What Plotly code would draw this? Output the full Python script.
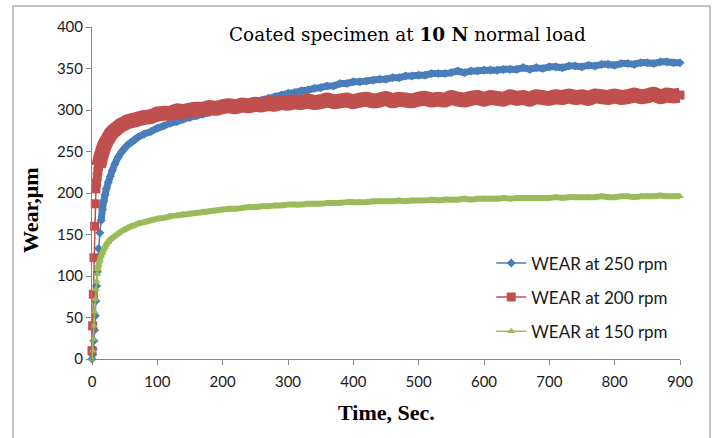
import plotly.graph_objects as go

# Time (s)
time_s = [0, 1, 2, 3, 4, 5, 6, 7, 8, 9, 10, 12, 14, 16, 18, 20, 22, 25, 28, 31, 35, 40, 45, 50, 55, 60, 65, 70,
          80, 90, 100, 110, 120, 130, 140, 150, 160, 170, 180, 190, 200, 210, 220, 230, 240, 250, 260, 270, 280, 290,
          300, 310, 320, 330, 340, 350, 360, 370, 380, 390, 400, 410, 420, 430, 440, 450, 460, 470, 480, 490,
          500, 510, 520, 530, 540, 550, 560, 570, 580, 590, 600, 610, 620, 630, 640, 650, 660, 670, 680, 690,
          700, 710, 720, 730, 740, 750, 760, 770, 780, 790, 800, 810, 820, 830, 840, 850, 860, 870, 880, 890, 900]

# Wear (um) at 250 rpm
wear_250 = [0, 5, 12, 22, 35, 52, 70, 88, 105, 120, 133, 152, 167, 180, 190, 198, 205, 213, 220, 227, 235, 243, 249, 254, 258, 261, 264, 267,
            271, 274, 278, 281, 284, 286, 289, 291, 293, 295, 297, 299, 301, 303, 304, 306, 308, 310, 312, 314, 316, 318,
            320, 321, 323, 324, 326, 327, 329, 329, 332, 332, 334, 334, 335, 336, 337, 337, 339, 339, 341, 341,
            342, 342, 344, 344, 344, 345, 347, 345, 347, 347, 348, 348, 348, 349, 349, 349, 351, 349, 351, 350,
            352, 352, 351, 353, 353, 352, 354, 353, 355, 355, 354, 356, 356, 355, 357, 357, 356, 358, 358, 357, 357]

# Wear (um) at 200 rpm
wear_200 = [10, 40, 78, 122, 160, 187, 205, 212, 220, 226, 232, 238, 245, 250, 255, 259, 262, 266, 270, 273, 276, 279, 282, 284, 286, 287, 288, 289,
            291, 292, 295, 296, 296, 299, 298, 300, 301, 301, 303, 302, 304, 305, 304, 306, 305, 307, 306, 308, 307, 309,
            308, 310, 309, 311, 309, 310, 312, 310, 311, 312, 310, 312, 313, 311, 312, 314, 311, 313, 312, 311,
            313, 314, 312, 313, 312, 315, 313, 312, 314, 315, 313, 315, 314, 313, 316, 314, 315, 313, 316, 315,
            314, 316, 315, 317, 315, 316, 314, 317, 316, 315, 317, 315, 316, 318, 316, 317, 319, 316, 318, 317, 318]

# Wear (um) at 150 rpm
wear_150 = [0, 10, 24, 40, 57, 72, 84, 94, 102, 108, 113, 119, 124, 128, 132, 135, 138, 141, 144, 146, 148, 151, 154, 156, 158, 160, 161, 163,
            165, 167, 169, 170, 172, 173, 174, 175, 176, 177, 178, 179, 180, 181, 181, 182, 183, 183, 184, 184, 185, 185,
            186, 186, 186, 187, 187, 187, 188, 188, 188, 189, 189, 189, 189, 190, 190, 190, 190, 191, 190, 191,
            191, 191, 192, 191, 192, 192, 192, 193, 192, 193, 193, 193, 193, 194, 193, 194, 194, 194, 194, 194,
            194, 195, 194, 195, 195, 195, 195, 195, 196, 195, 195, 196, 196, 195, 196, 196, 196, 197, 196, 196, 196]

x_ticks = [0, 100, 200, 300, 400, 500, 600, 700, 800, 900]
y_ticks = [0, 50, 100, 150, 200, 250, 300, 350, 400]

# name, values, colour, marker symbol, marker size, dense-band width, first index of dense band
series = [
    ("WEAR at 250 rpm", wear_250, "#4A7EBB", "diamond", 7, 7, 12),
    ("WEAR at 200 rpm", wear_200, "#C0504D", "square", 9, 15, 10),
    ("WEAR at 150 rpm", wear_150, "#9BBB59", "triangle-up", 7, 6, 9),
]

fig = go.Figure()
for i, (name, vals, col, sym, sz, bw, k0) in enumerate(series):
    # dense overlapping samples appear as a solid band in the original
    fig.add_trace(go.Scatter(
        x=time_s[k0:], y=vals[k0:], mode="lines", showlegend=False, hoverinfo="skip",
        line=dict(color=col, width=bw, shape="spline", smoothing=0.6), cliponaxis=False,
    ))
    fig.add_trace(go.Scatter(
        x=time_s, y=vals, name=name, mode="lines+markers",
        line=dict(color=col, width=1.5),
        marker=dict(color=col, symbol=sym, size=sz, line=dict(width=0)),
        legendgroup=str(i), cliponaxis=False,
    ))

axis_col = "#868686"
tick_font = dict(family="Lato", size=15, color="#1a1a1a")
serif_b = dict(family="Liberation Serif", size=22, color="black")

fig.update_layout(
    width=712, height=438,
    margin=dict(l=92, r=32, t=27, b=79),
    paper_bgcolor="white", plot_bgcolor="white",
    showlegend=True,
    legend=dict(x=0.679, y=0.342, xanchor="left", yanchor="top",
                font=dict(family="Lato", size=17, color="#1a1a1a"),
                tracegroupgap=9, bgcolor="rgba(0,0,0,0)"),
    xaxis=dict(range=[0, 900], tickvals=x_ticks, showgrid=False, zeroline=False,
               showline=True, linecolor=axis_col, linewidth=1,
               ticks="outside", ticklen=5, tickcolor=axis_col, tickfont=tick_font,
               ticklabelstandoff=4),
    yaxis=dict(range=[0, 400], tickvals=y_ticks, showgrid=False, zeroline=False,
               showline=True, linecolor=axis_col, linewidth=1,
               ticks="outside", ticklen=5, tickcolor=axis_col, tickfont=tick_font),
    annotations=[
        dict(text="Coated specimen at <b>10 N</b> normal load", xref="paper", yref="paper",
             x=0.536, y=0.976, xanchor="center", yanchor="middle", showarrow=False,
             font=dict(family="DejaVu Serif", size=18.4, color="black")),
        dict(text="<b>Time, Sec.</b>", xref="paper", yref="paper", x=0.50, y=-0.160,
             xanchor="center", yanchor="middle", showarrow=False, font=serif_b),
        dict(text="<b>Wear,μm</b>", xref="paper", yref="paper", x=-0.1037, y=0.449,
             xanchor="center", yanchor="middle", showarrow=False, textangle=-90, font=serif_b),
    ],
    shapes=[dict(type="rect", xref="paper", yref="paper", x0=-0.1344, x1=1.051, y0=-0.25, y1=1.063,
                 line=dict(color="#b0b0b0", width=1.5), fillcolor="rgba(0,0,0,0)", layer="below")],
)

fig.write_html("out.html", config={"displayModeBar": False},
               post_script="document.body.style.margin='0';")
